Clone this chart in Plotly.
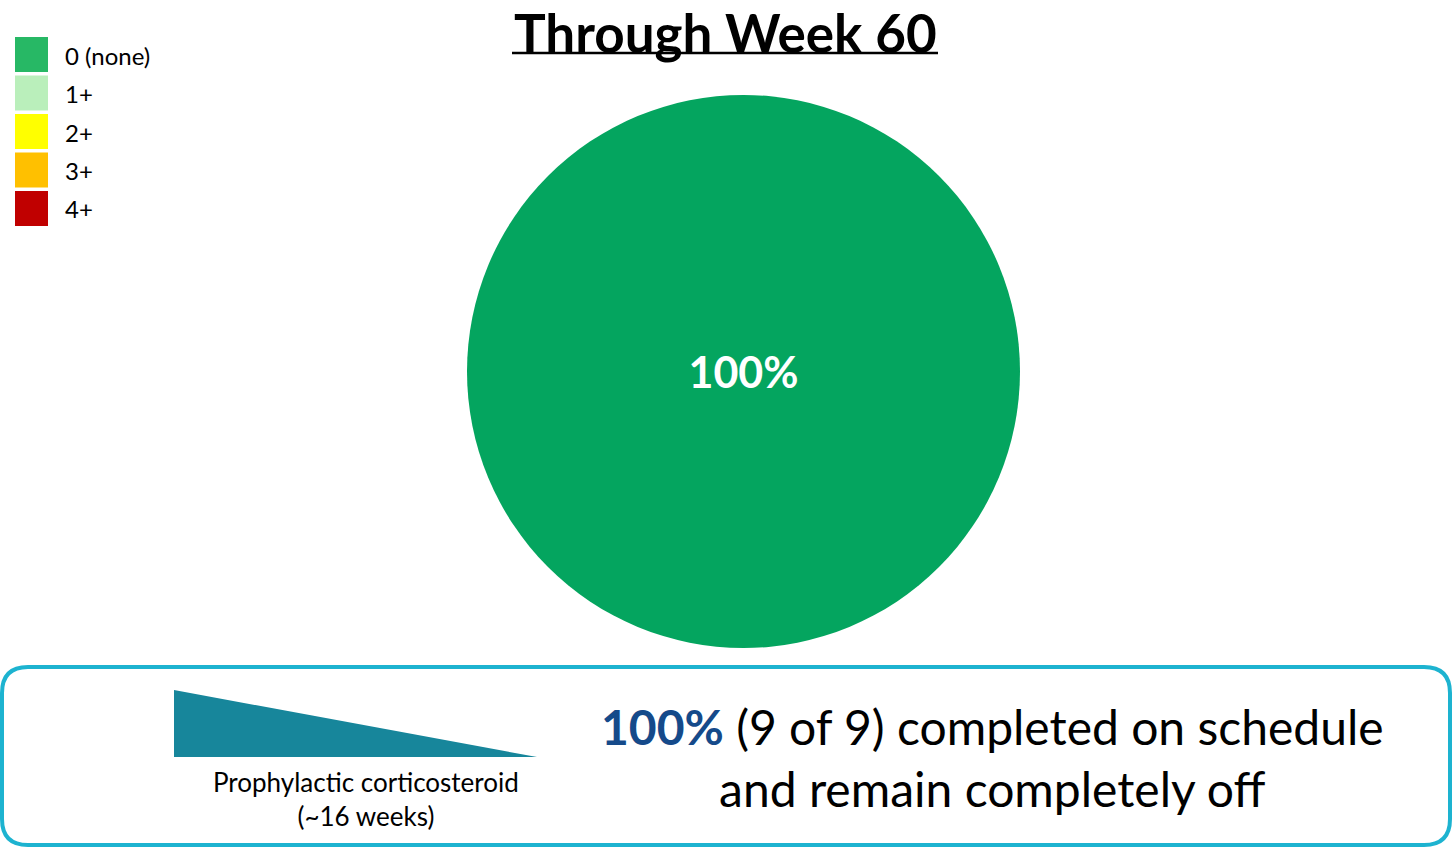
import plotly.graph_objects as go

# grade categories and share of patients through week 60
grades = ['0 (none)', '1+', '2+', '3+', '4+']
patients = [9, 0, 0, 0, 0]
grade_colors = ['#27B865', '#BAEFBB', '#FFFF00', '#FFC000', '#C00000']
pie_colors = ['#04A55F', '#BAEFBB', '#FFFF00', '#FFC000', '#C00000']

title_text = 'Through Week 60'
steroid_label = 'Prophylactic corticosteroid<br>(~16 weeks)'
summary_pct = '100%'
summary_rest = ' (9 of 9) completed on schedule<br>and remain completely off'

W, H = 1453, 847
FONT = 'Lato'

fig = go.Figure()

fig.add_trace(go.Pie(
    labels=grades,
    values=patients,
    marker=dict(colors=pie_colors, line=dict(width=0)),
    sort=False,
    direction='clockwise',
    textinfo='percent',
    texttemplate='<b>%{percent:.0%}</b>',
    textposition='inside',
    insidetextfont=dict(family=FONT, size=43, color='white'),
    showlegend=False,
    hoverinfo='label+percent',
    domain=dict(x=[467 / W, 1020 / W], y=[1 - 648 / H, 1 - 95 / H]),
))


def px(x):
    return x / W


def py(y):
    return 1 - y / H


def conv(p):
    # svg path in pixel coords -> paper coords
    out = []
    for tok in p.split(' '):
        if ',' in tok:
            a, b = tok.split(',')
            out.append(f'{px(float(a))},{py(float(b))}')
        else:
            out.append(tok)
    return ' '.join(out)


shapes = []
annotations = []

# manual legend with large square swatches
for i, (name, col) in enumerate(zip(grades, grade_colors)):
    top = 37 + i * 38.5
    shapes.append(dict(type='rect', xref='paper', yref='paper',
                       x0=px(15), x1=px(48), y0=py(top + 35), y1=py(top),
                       fillcolor=col, line=dict(width=0)))
    annotations.append(dict(xref='paper', yref='paper', x=px(63), y=py(top + 18),
                            text=name, showarrow=False, xanchor='left', yanchor='middle',
                            font=dict(family=FONT, size=24, color='black')))

# title with underline
annotations.append(dict(xref='paper', yref='paper', x=px(725), y=py(32),
                        text='<b>' + title_text + '</b>', showarrow=False,
                        xanchor='center', yanchor='middle',
                        font=dict(family=FONT, size=53, color='black')))
shapes.append(dict(type='line', xref='paper', yref='paper',
                   x0=px(512), x1=px(938), y0=py(53), y1=py(53),
                   line=dict(color='black', width=2.5)))

# rounded box at bottom
x0, x1, y0, y1, r = 2, 1450, 667, 845, 26
path = (f'M {x0 + r},{y0} L {x1 - r},{y0} Q {x1},{y0} {x1},{y0 + r} '
        f'L {x1},{y1 - r} Q {x1},{y1} {x1 - r},{y1} L {x0 + r},{y1} '
        f'Q {x0},{y1} {x0},{y1 - r} L {x0},{y0 + r} Q {x0},{y0} {x0 + r},{y0} Z')
shapes.append(dict(type='path', xref='paper', yref='paper', path=conv(path),
                   line=dict(color='#1DB3D0', width=4), fillcolor='rgba(0,0,0,0)'))

# taper triangle
shapes.append(dict(type='path', xref='paper', yref='paper',
                   path=conv('M 174,690 L 174,757 L 537,757 Z'),
                   fillcolor='#17869B', line=dict(width=0)))

annotations.append(dict(xref='paper', yref='paper', x=px(366), y=py(799),
                        text=steroid_label, showarrow=False,
                        xanchor='center', yanchor='middle', align='center',
                        font=dict(family=FONT, size=26, color='black')))

annotations.append(dict(xref='paper', yref='paper', x=px(992), y=py(757),
                        text=f"<b><span style='color:#154A8A'>{summary_pct}</span></b>{summary_rest}",
                        showarrow=False, xanchor='center', yanchor='middle', align='center',
                        font=dict(family=FONT, size=48, color='black')))

fig.update_layout(
    width=W, height=H,
    margin=dict(l=0, r=0, t=0, b=0),
    paper_bgcolor='white',
    plot_bgcolor='white',
    shapes=shapes,
    annotations=annotations,
)

fig.write_html('out.html', config={'displayModeBar': False},
               post_script="document.body.style.margin='0';")
